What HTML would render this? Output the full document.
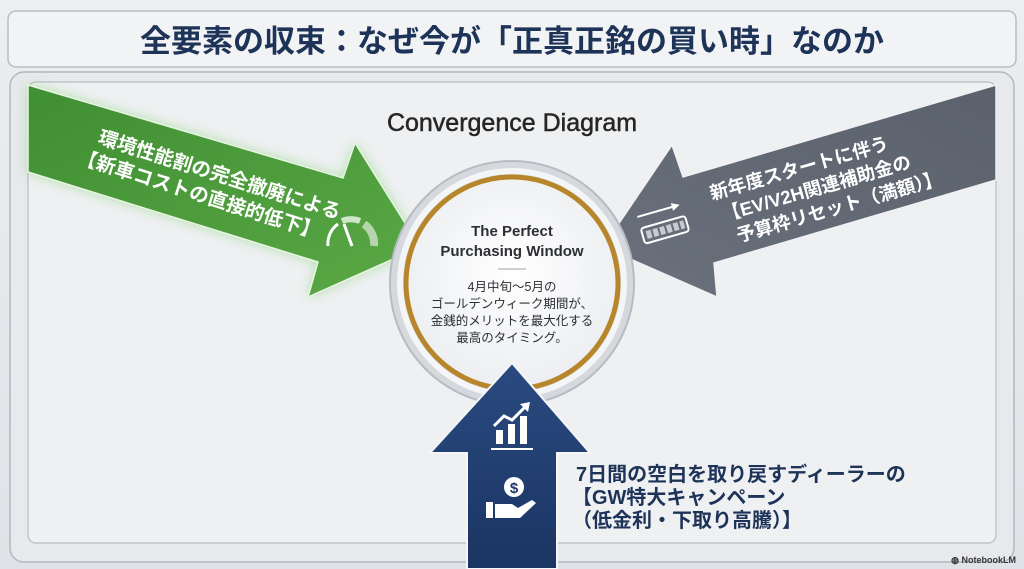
<!DOCTYPE html>
<html><head><meta charset="utf-8"><style>
html,body{margin:0;padding:0;width:1024px;height:569px;overflow:hidden;background:#e4e6ea}
svg{display:block}
text{font-family:"Liberation Sans","Noto Sans CJK JP",sans-serif}
</style></head><body>
<svg width="1024" height="569" viewBox="0 0 1024 569" xmlns="http://www.w3.org/2000/svg">
<defs>
<linearGradient id="bg" x1="0" y1="0" x2="0" y2="1"><stop offset="0" stop-color="#eceef1"/><stop offset="1" stop-color="#dfe2e6"/></linearGradient>
<linearGradient id="grn" x1="0" y1="0" x2="1" y2="1"><stop offset="0" stop-color="#3f8f33"/><stop offset="1" stop-color="#5aa845"/></linearGradient>
<linearGradient id="gry" x1="1" y1="0" x2="0" y2="1"><stop offset="0" stop-color="#5a616c"/><stop offset="1" stop-color="#6a717c"/></linearGradient>
<linearGradient id="blu" x1="0" y1="0" x2="0" y2="1"><stop offset="0" stop-color="#2a4a80"/><stop offset="1" stop-color="#1b3563"/></linearGradient>
<radialGradient id="cw" cx="0.5" cy="0.45" r="0.55"><stop offset="0" stop-color="#ffffff"/><stop offset="1" stop-color="#eceef1"/></radialGradient>
<filter id="glow" x="-20%" y="-20%" width="140%" height="140%"><feGaussianBlur stdDeviation="6"/></filter>
</defs>
<rect width="1024" height="569" fill="url(#bg)"/>
<rect x="8" y="11" width="1008" height="56" rx="8" fill="#f2f3f5" stroke="#b9bdc3" stroke-width="1.5"/>
<text x="512" y="52" text-anchor="middle" font-size="31" font-weight="bold" fill="#1e3358">全要素の収束：なぜ今が「正真正銘の買い時」なのか</text>
<rect x="10" y="72" width="1004" height="490" rx="14" fill="#e7e9ec" stroke="#b4b8be" stroke-width="1.5"/>
<rect x="28" y="82" width="968" height="461" rx="8" fill="#eef0f2" stroke="#b9bdc3" stroke-width="1.2"/>
<text x="512" y="131" text-anchor="middle" font-size="25" fill="#262626" stroke="#262626" stroke-width="0.5">Convergence Diagram</text>
<polygon points="28,85 343,178 355,143 420,247 308,297 318,262 28,172" fill="#7fd06a" opacity="0.6" filter="url(#glow)"/>
<polygon points="28,85 343,178 355,143 420,247 308,297 318,262 28,172" fill="url(#grn)" stroke="#e8f5e2" stroke-width="1.5"/>
<g transform="translate(97,143) rotate(17.5)" fill="#fff" font-size="19.5" font-weight="bold">
<text x="0" y="0">環境性能割の完全撤廃による</text>
<text x="-14" y="25">【新車コストの直接的低下】</text>
</g>
<g transform="translate(350,238)" fill="none">
<path d="M-22,8 A24,24 0 0 1 -12,-14" stroke="#fff" stroke-width="3"/>
<path d="M-8,-17 A24,24 0 0 1 10,-17" stroke="#cfe6c8" stroke-width="6"/>
<path d="M14,-14 A24,24 0 0 1 24,8" stroke="#b5d6ac" stroke-width="8"/>
<line x1="-6" y1="-14" x2="2" y2="8" stroke="#fff" stroke-width="3"/>
</g>
<polygon points="996,85 683,177 672,145 603,247 717,297 714,263 996,180" fill="url(#gry)" stroke="#f0f1f3" stroke-width="1.5"/>
<g transform="translate(712,200) rotate(-16)" fill="#fff" font-size="18.5" font-weight="bold">
<text x="0" y="0">新年度スタートに伴う</text>
<text x="6" y="24">【EV/V2H関連補助金の</text>
<text x="14" y="48">予算枠リセット（満額）】</text>
</g>
<g transform="translate(650,232) rotate(-16)">
<line x1="-8" y1="-18" x2="28" y2="-18" stroke="#fff" stroke-width="2"/>
<polygon points="28,-22 36,-18 28,-14" fill="#fff"/>
<rect x="-8" y="-6" width="46" height="16" rx="3" fill="none" stroke="#fff" stroke-width="2"/>
<g fill="#c7cbd1"><rect x="-4" y="-2" width="5" height="8"/><rect x="3" y="-2" width="5" height="8"/><rect x="10" y="-2" width="5" height="8"/><rect x="17" y="-2" width="5" height="8"/><rect x="24" y="-2" width="5" height="8"/><rect x="31" y="-2" width="4" height="8"/></g>
</g>
<circle cx="512" cy="283" r="122" fill="#d5d8dc" stroke="#b8bcc2" stroke-width="2"/>
<circle cx="512" cy="283" r="112" fill="none" stroke="#f4f5f6" stroke-width="6"/>
<circle cx="512" cy="283" r="106" fill="url(#cw)" stroke="#b8862a" stroke-width="5"/>
<text x="512" y="236" text-anchor="middle" font-size="15" font-weight="bold" fill="#2d2f33">The Perfect</text>
<text x="512" y="256" text-anchor="middle" font-size="15" font-weight="bold" fill="#2d2f33">Purchasing Window</text>
<line x1="498" y1="269" x2="526" y2="269" stroke="#9aa0a8" stroke-width="1"/>
<g text-anchor="middle" font-size="12.5" fill="#2d2f33">
<text x="512" y="291">4月中旬〜5月の</text>
<text x="512" y="308">ゴールデンウィーク期間が、</text>
<text x="512" y="325">金銭的メリットを最大化する</text>
<text x="512" y="342">最高のタイミング。</text>
</g>
<polygon points="512,363 590,453 557,453 557,569 467,569 467,453 430,453" fill="url(#blu)" stroke="#f4f6f9" stroke-width="2"/>
<g fill="#fff">
<rect x="496" y="430" width="7" height="14"/><rect x="508" y="424" width="7" height="20"/><rect x="520" y="416" width="7" height="28"/>
<rect x="491" y="448" width="42" height="2"/>
<polyline points="494,426 504,416 512,420 526,406" fill="none" stroke="#fff" stroke-width="3"/>
<polygon points="520,404 530,402 528,412"/>
<circle cx="514" cy="487" r="10" fill="#fff"/>
<text x="514" y="493" text-anchor="middle" font-size="15" font-weight="bold" fill="#1f3a68">$</text>
<rect x="486" y="502" width="7" height="16"/>
<path d="M495,504 L512,504 L518,508 L532,500 L536,503 L520,518 L495,518 Z"/>
</g>
<g font-size="20" fill="#1e3358" font-weight="bold">
<text x="576" y="481">7日間の空白を取り戻すディーラーの</text>
<text x="572" y="504">【GW特大キャンペーン</text>
<text x="572" y="527">（低金利・下取り高騰）】</text>
</g>
<text x="1016" y="563" text-anchor="end" font-size="9" font-weight="bold" fill="#333">◍ NotebookLM</text>
</svg>
</body></html>
